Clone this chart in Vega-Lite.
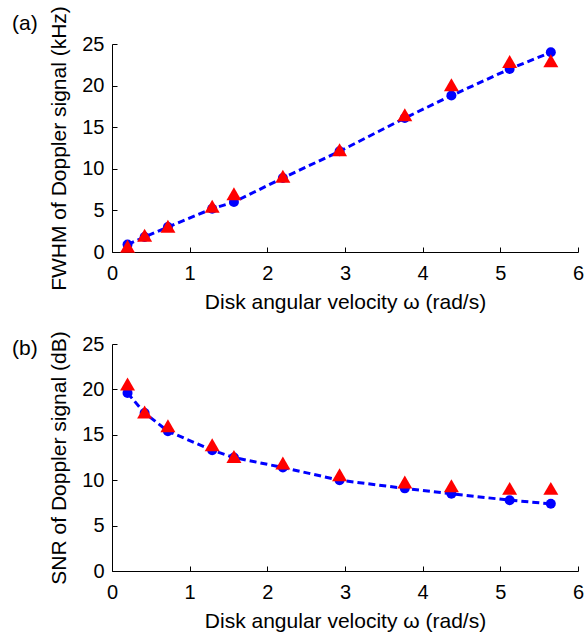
{
  "$schema": "https://vega.github.io/schema/vega-lite/v6.json",
  "padding": {"left": 12, "top": 5, "right": 4, "bottom": 2},
  "background": "white",
  "bounds": "flush",
  "spacing": 92,
  "datasets": {
    "fwhm": [
      {"w": 0.2, "blue": 0.9, "red": 0.7},
      {"w": 0.42, "blue": 1.8, "red": 2.0},
      {"w": 0.72, "blue": 3.0, "red": 3.1},
      {"w": 1.29, "blue": 5.2, "red": 5.5},
      {"w": 1.57, "blue": 6.0, "red": 7.0},
      {"w": 2.2, "blue": 8.9, "red": 9.1},
      {"w": 2.93, "blue": 12.1, "red": 12.3},
      {"w": 3.77, "blue": 16.1, "red": 16.5},
      {"w": 4.37, "blue": 18.8, "red": 20.1},
      {"w": 5.12, "blue": 22.0, "red": 22.9},
      {"w": 5.65, "blue": 24.0, "red": 23.0}
    ],
    "snr": [
      {"w": 0.2, "blue": 19.6, "red": 20.6},
      {"w": 0.42, "blue": 17.4, "red": 17.5},
      {"w": 0.72, "blue": 15.4, "red": 16.0},
      {"w": 1.29, "blue": 13.3, "red": 13.9},
      {"w": 1.57, "blue": 12.5, "red": 12.6},
      {"w": 2.2, "blue": 11.4, "red": 11.9},
      {"w": 2.93, "blue": 10.0, "red": 10.6},
      {"w": 3.77, "blue": 9.1, "red": 9.8},
      {"w": 4.37, "blue": 8.5, "red": 9.4},
      {"w": 5.12, "blue": 7.8, "red": 9.1},
      {"w": 5.65, "blue": 7.4, "red": 9.1}
    ]
  },
  "config": {
    "view": {"stroke": null},
    "font": "Liberation Sans",
    "axis": {
      "domainColor": "black", "tickColor": "black", "labelColor": "black", "titleColor": "black",
      "labelFont": "Liberation Sans", "titleFont": "Liberation Sans",
      "labelFontSize": 20, "titleFontSize": 21, "titleFontWeight": "normal",
      "grid": false, "tickSize": -5, "domainWidth": 1, "tickWidth": 1, "labelFlush": false
    },
    "axisX": {"labelPadding": 16, "titlePadding": 8},
    "axisY": {"labelPadding": 13, "titlePadding": 12},
    "title": {"font": "Liberation Sans", "fontSize": 21, "fontWeight": "normal", "color": "black", "anchor": "start", "frame": "group"}
  },
  "vconcat": [
    {
      "width": 466, "height": 208,
      "title": {"text": "(a)", "dx": -100, "offset": -28},
      "data": {"name": "fwhm"},
      "encoding": {
        "x": {"field": "w", "type": "quantitative", "scale": {"domain": [0, 6], "nice": false},
              "axis": {"values": [0, 1, 2, 3, 4, 5, 6], "title": "Disk angular velocity ω (rad/s)"}},
        "y": {"type": "quantitative", "scale": {"domain": [0, 25], "nice": false},
              "axis": {"values": [0, 5, 10, 15, 20, 25], "title": "FWHM of Doppler signal (kHz)"}}
      },
      "layer": [
        {"mark": {"type": "line", "color": "#0000ff", "strokeWidth": 3, "strokeDash": [7, 4]}, "encoding": {"y": {"field": "blue", "type": "quantitative"}}},
        {"mark": {"type": "point", "shape": "circle", "filled": true, "color": "#0000ff", "opacity": 1, "size": 100}, "encoding": {"y": {"field": "blue", "type": "quantitative"}}},
        {"mark": {"type": "point", "shape": "triangle-up", "filled": true, "color": "#ff0000", "opacity": 1, "size": 225}, "encoding": {"y": {"field": "red", "type": "quantitative"}}}
      ]
    },
    {
      "width": 466, "height": 227,
      "title": {"text": "(b)", "dx": -100, "offset": -28},
      "data": {"name": "snr"},
      "encoding": {
        "x": {"field": "w", "type": "quantitative", "scale": {"domain": [0, 6], "nice": false},
              "axis": {"values": [0, 1, 2, 3, 4, 5, 6], "title": "Disk angular velocity ω (rad/s)"}},
        "y": {"type": "quantitative", "scale": {"domain": [0, 25], "nice": false},
              "axis": {"values": [0, 5, 10, 15, 20, 25], "title": "SNR of Doppler signal (dB)"}}
      },
      "layer": [
        {"mark": {"type": "line", "color": "#0000ff", "strokeWidth": 3, "strokeDash": [7, 4]}, "encoding": {"y": {"field": "blue", "type": "quantitative"}}},
        {"mark": {"type": "point", "shape": "circle", "filled": true, "color": "#0000ff", "opacity": 1, "size": 100}, "encoding": {"y": {"field": "blue", "type": "quantitative"}}},
        {"mark": {"type": "point", "shape": "triangle-up", "filled": true, "color": "#ff0000", "opacity": 1, "size": 225}, "encoding": {"y": {"field": "red", "type": "quantitative"}}}
      ]
    }
  ]
}
